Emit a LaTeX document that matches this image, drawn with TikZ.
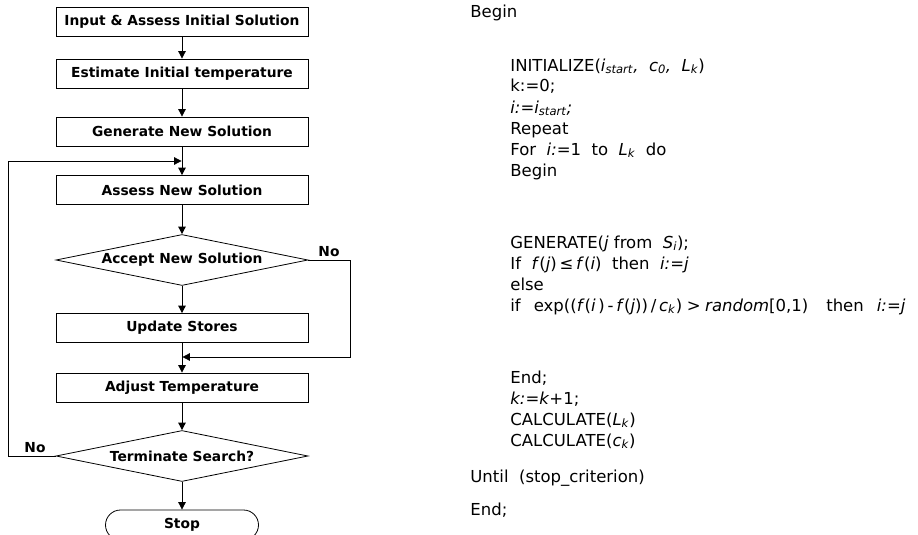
\documentclass[tikz,border=0pt]{standalone}
\usepackage{fontspec}
\setmainfont{DejaVu Sans}
\newfontfamily\codefont{DejaVu Sans}
\usetikzlibrary{arrows.meta,shapes.geometric,shapes.misc}
\newcommand{\ii}[1]{\textit{#1}}
\newcommand{\sbs}[1]{\textsubscript{\textit{#1}}}
\begin{document}
\begin{tikzpicture}[x=1pt,y=-1pt,line width=0.8pt,
  flow/.style={font=\bfseries\fontsize{13.8}{16}\selectfont},
  box/.style={flow,draw,rectangle,minimum width=252pt,minimum height=29pt,inner sep=0pt},
  dec/.style={flow,draw,diamond,shape aspect=4.9,minimum width=252pt,minimum height=51pt,inner sep=0pt},
  term/.style={flow,draw,rounded rectangle,minimum width=153pt,minimum height=30pt,inner sep=0pt},
  arr/.style={-{Triangle[length=7.5pt,width=7.5pt]}},
  lbl/.style={flow,inner sep=0pt},
  code/.style={anchor=base west,inner sep=0pt,font=\codefont\fontsize{16.5}{19}\selectfont}]
\useasboundingbox (0,0) rectangle (918,535);
\clip (0,0) rectangle (918,535);
% flowchart
\node[box] (b1) at (182,22) {Input \& Assess Initial Solution};
\node[box] (b2) at (182,73.5) {Estimate Initial temperature};
\node[box] (b3) at (182,131.5) {Generate New Solution};
\node[box] (b4) at (182,190) {Assess New Solution};
\node[dec] (d1) at (182,260) {Accept New Solution};
\node[box] (b5) at (182,328) {Update Stores};
\node[box] (b6) at (182,387.5) {Adjust Temperature};
\node[dec] (d2) at (182,456) {Terminate Search?};
\node[term] (st) at (182,525) {Stop};
\coordinate (lc) at (8,161);
\coordinate (fb) at (181.6,161);
\coordinate (rc) at (350,357);
\coordinate (jn) at (182.4,357);
\draw[arr] (b1) -- (b2);
\draw[arr] (b2) -- (b3);
\draw[arr] (b3) -- (b4);
\draw[arr] (b4) -- (d1);
\draw[arr] (d1) -- (b5);
\draw[arr] (b5) -- (b6);
\draw[arr] (b6) -- (d2);
\draw[arr] (d2) -- (st);
\draw[arr] (d1.east) -| (rc) -- (jn);
\draw[arr] (d2.west) -| (lc) -- (fb);
\node[lbl] (no1) at (329,252) {No};
\node[lbl] (no2) at (35,448) {No};
% pseudocode
\node[code] (c1) at (470,18) {Begin};
\node[code] (c2) at (510,71) {INITIALIZE(\ii{i}\sbs{start}\ii{,}\ \ \ii{c}\sbs{0}\ii{,}\ \ \ii{L}\sbs{k})};
\node[code] (c3) at (510,92) {k:=0;};
\node[code] (c4) at (510,113) {\ii{i:}=\ii{i}\sbs{start}\ii{;}};
\node[code] (c5) at (510,134) {Repeat};
\node[code] (c6) at (510,155) {For \ \ii{i:}=1 \ to \ \ii{L}\sbs{k} \ do};
\node[code] (c7) at (510,176) {Begin};
\node[code] (c8) at (510,248) {GENERATE(\ii{j} from \ \ii{S}\sbs{i});};
\node[code] (c9) at (510,269) {If \ \ii{f}(\ii{j})\,≤\,\ii{f}(\ii{i}) \ then \ \ii{i:=j}};
\node[code] (c10) at (510,290) {else};
\node[code] (c11) at (510,311) {if\hspace{13pt}exp((\ii{f}(\ii{i}\,)\,-\,\ii{f}(\ii{j}))\,/\,\ii{c}\sbs{k})\;>\;\ii{random}[0,1)\hspace{18pt}then\hspace{13pt}\ii{i:=j}};
\node[code] (c12) at (510,383) {End;};
\node[code] (c13) at (510,404) {\ii{k:=k}+1;};
\node[code] (c14) at (510,425) {CALCULATE(\ii{L}\sbs{k})};
\node[code] (c15) at (510,446) {CALCULATE(\ii{c}\sbs{k})};
\node[code] (c16) at (470,482) {Until \ (stop\_criterion)};
\node[code] (c17) at (470,515) {End;};
\end{tikzpicture}
\end{document}
